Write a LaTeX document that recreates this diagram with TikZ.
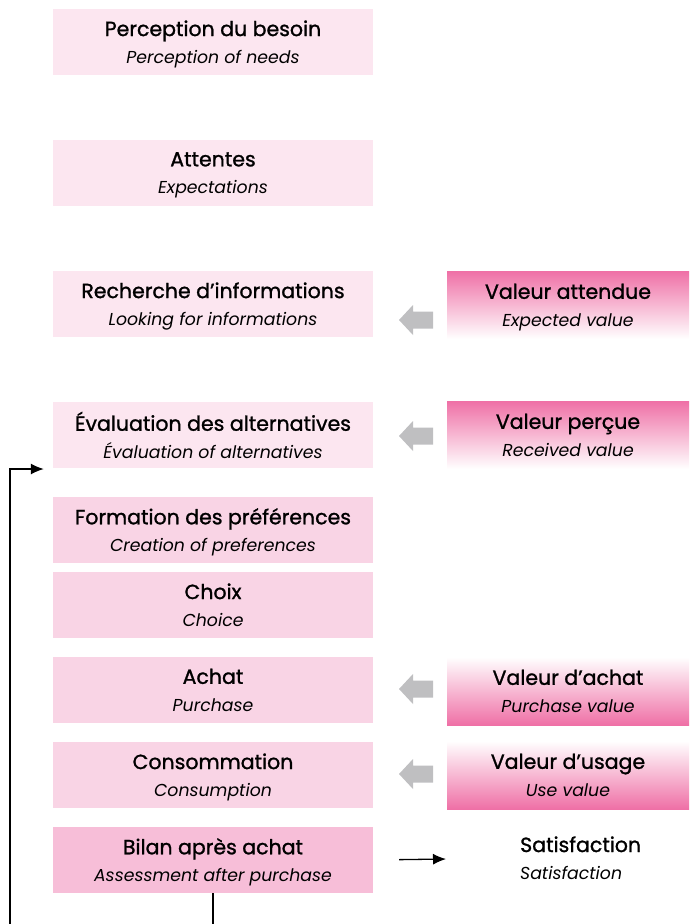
\documentclass[tikz,border=0pt]{standalone}
\usepackage{fontspec}
\setmainfont{Poppins}
\newfontfamily\titrefont{Poppins}[FakeBold=1.2]
\usetikzlibrary{arrows.meta,calc}

\definecolor{rosepale}{RGB}{252,230,240}
\definecolor{rosemoyen}{RGB}{249,212,229}
\definecolor{rosebilan}{RGB}{247,190,216}
\definecolor{rosefonce}{RGB}{239,112,166}
\definecolor{grisfleche}{RGB}{191,191,193}

\newcommand{\etiq}[2]{{\titrefont\fontsize{20.5}{26}\selectfont #1}\\[1.5pt]{\itshape #2}}

\tikzset{
	etape/.style={minimum width=320pt, minimum height=66pt, inner sep=0pt,
		align=center, font=\fontsize{17.3}{26}\selectfont, text depth=0pt},
	valeur/.style={etape, minimum width=242pt, minimum height=68pt},
	lien/.style={line width=1.3pt, -{Latex[length=13pt,width=11pt]}},
	flechegrise/.pic={
		\fill[grisfleche] (-17,0) -- (-3,-15) -- (-3,-8.5) -- (17,-8.5)
			-- (17,8.5) -- (-3,8.5) -- (-3,15) -- cycle;
	}
}

\begin{document}
\begin{tikzpicture}[x=1pt,y=-1pt]
	\useasboundingbox (0,0) rectangle (689,924);
	% etapes du processus
	\node[etape, fill=rosepale] (besoin) at (213,42) {\etiq{Perception du besoin}{Perception of needs}};
	\node[etape, fill=rosepale] (attentes) at (213,173) {\etiq{Attentes}{Expectations}};
	\node[etape, fill=rosepale] (recherche) at (213,304) {\etiq{Recherche d’informations}{Looking for informations}};
	\node[etape, fill=rosepale] (evaluation) at (213,435) {\etiq{Évaluation des alternatives}{Évaluation of alternatives}};
	\node[etape, fill=rosemoyen] (preferences) at (213,530) {\etiq{Formation des préférences}{Creation of preferences}};
	\node[etape, fill=rosemoyen] (choix) at (213,605) {\etiq{Choix}{Choice}};
	\node[etape, fill=rosemoyen] (achat) at (213,690) {\etiq{Achat}{Purchase}};
	\node[etape, fill=rosemoyen] (conso) at (213,775) {\etiq{Consommation}{Consumption}};
	\node[etape, fill=rosebilan] (bilan) at (213,860) {\etiq{Bilan après achat}{Assessment after purchase}};
	% valeurs
	\node[valeur, top color=rosefonce, bottom color=white] (attendue) at (568,305) {\etiq{Valeur attendue}{Expected value}};
	\node[valeur, top color=rosefonce, bottom color=white] (percue) at (568,435) {\etiq{Valeur perçue}{Received value}};
	\node[valeur, top color=white, bottom color=rosefonce] (vachat) at (568,691) {\etiq{Valeur d’achat}{Purchase value}};
	\node[valeur, top color=white, bottom color=rosefonce] (usage) at (568,775) {\etiq{Valeur d’usage}{Use value}};
	\node[anchor=west, inner sep=0pt, align=left, font=\fontsize{17.3}{26}\selectfont] (satisf) at (520,858) {\etiq{Satisfaction}{Satisfaction}};
	% fleches grises
	\pic at (416,320) {flechegrise};
	\pic at (416,436) {flechegrise};
	\pic at (416,689) {flechegrise};
	\pic at (416,774) {flechegrise};
	% liens
	\draw[lien, shorten <=26pt, shorten >=74pt] (bilan.east) -- (satisf.west);
	\coordinate (retour) at (10,940);
	\draw[lien] (bilan.south) -- (bilan.south |- retour) -- (retour) -- (10,469) -- ([xshift=-9pt]evaluation.south west |- 0,469);
\end{tikzpicture}
\end{document}
